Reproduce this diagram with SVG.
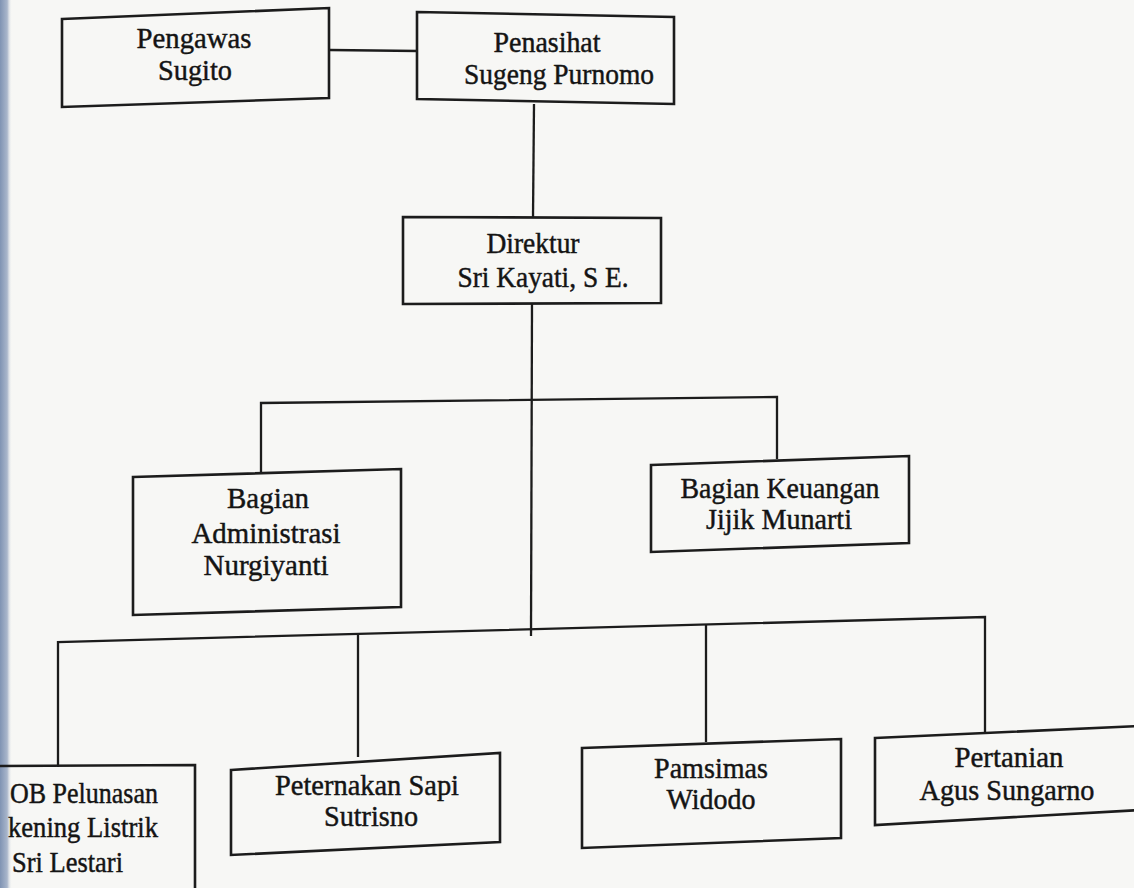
<svg xmlns="http://www.w3.org/2000/svg" width="1134" height="888" viewBox="0 0 1134 888">
<defs>
<style>
.box{fill:none;stroke:#1c1c1c;stroke-width:2.6;stroke-linejoin:miter}
.ln{fill:none;stroke:#1c1c1c;stroke-width:2.3}
.t,.ts{font-family:"Liberation Serif","Times New Roman",serif;font-size:30px;fill:#141414;stroke:#141414;stroke-width:0.45}
.t{text-anchor:middle}
.ts{text-anchor:start}
</style>
<linearGradient id="strip" x1="0" y1="0" x2="1" y2="0">
<stop offset="0" stop-color="#7f93b3"/>
<stop offset="0.6" stop-color="#a9b6cb"/>
<stop offset="1" stop-color="#f6f6f4" stop-opacity="0"/>
</linearGradient>
</defs>
<rect x="0" y="0" width="1134" height="888" fill="#f7f7f5"/>
<rect x="0" y="0" width="12" height="888" fill="url(#strip)"/>
<g id="connectors">
<line class="ln" x1="330" y1="50" x2="418" y2="51"/>
<line class="ln" x1="534" y1="104" x2="533" y2="217"/>
<line class="ln" x1="532" y1="304" x2="531" y2="636"/>
<polyline class="ln" points="261,472 261,403 777,397 777,459"/>
<polyline class="ln" points="58,767 58,642 985,617 985,734"/>
<line class="ln" x1="358" y1="634" x2="358" y2="757"/>
<line class="ln" x1="706" y1="625" x2="706" y2="742"/>
</g>
<g id="pengawas">
<polygon class="box" points="62,19 329,8 329,98 62,107"/>
<text class="t" x="194" y="48" textLength="115" lengthAdjust="spacingAndGlyphs">Pengawas</text>
<text class="t" x="195" y="80" textLength="74" lengthAdjust="spacingAndGlyphs">Sugito</text>
</g>
<g id="penasihat">
<polygon class="box" points="417,12 674,17 674,104 417,99"/>
<text class="t" x="547" y="52" textLength="107" lengthAdjust="spacingAndGlyphs">Penasihat</text>
<text class="t" x="559" y="84" textLength="190" lengthAdjust="spacingAndGlyphs">Sugeng Purnomo</text>
</g>
<g id="direktur">
<polygon class="box" points="403,217 661,218 661,303 403,304"/>
<text class="t" x="533" y="253" textLength="93" lengthAdjust="spacingAndGlyphs">Direktur</text>
<text class="t" x="543" y="287" textLength="171" lengthAdjust="spacingAndGlyphs">Sri Kayati, S E.</text>
</g>
<g id="administrasi">
<polygon class="box" points="133,477 401,469 401,607 133,615"/>
<text class="t" x="268" y="508" textLength="82" lengthAdjust="spacingAndGlyphs">Bagian</text>
<text class="t" x="266" y="543" textLength="149" lengthAdjust="spacingAndGlyphs">Administrasi</text>
<text class="t" x="266" y="575" textLength="125" lengthAdjust="spacingAndGlyphs">Nurgiyanti</text>
</g>
<g id="keuangan">
<polygon class="box" points="651,465 909,456 909,543 651,552"/>
<text class="t" x="780" y="498" textLength="199" lengthAdjust="spacingAndGlyphs">Bagian Keuangan</text>
<text class="t" x="779" y="529" textLength="146" lengthAdjust="spacingAndGlyphs">Jijik Munarti</text>
</g>
<g id="rekening">
<polygon class="box" points="-10,766 195,765 195,900 -10,900"/>
<text class="ts" x="10" y="803" textLength="148" lengthAdjust="spacingAndGlyphs">OB Pelunasan</text>
<text class="ts" x="8" y="837" textLength="150" lengthAdjust="spacingAndGlyphs">kening Listrik</text>
<text class="ts" x="12" y="872" textLength="111" lengthAdjust="spacingAndGlyphs">Sri Lestari</text>
</g>
<g id="peternakan">
<polygon class="box" points="231,770 500,753 500,842 231,855"/>
<text class="t" x="367" y="795" textLength="184" lengthAdjust="spacingAndGlyphs">Peternakan Sapi</text>
<text class="t" x="371" y="826" textLength="94" lengthAdjust="spacingAndGlyphs">Sutrisno</text>
</g>
<g id="pamsimas">
<polygon class="box" points="582,748 841,739 841,838 582,848"/>
<text class="t" x="711" y="778" textLength="114" lengthAdjust="spacingAndGlyphs">Pamsimas</text>
<text class="t" x="711" y="809" textLength="89" lengthAdjust="spacingAndGlyphs">Widodo</text>
</g>
<g id="pertanian">
<polygon class="box" points="875,738 1140,726 1140,810 875,825"/>
<text class="t" x="1009" y="767" textLength="109" lengthAdjust="spacingAndGlyphs">Pertanian</text>
<text class="t" x="1007" y="800" textLength="175" lengthAdjust="spacingAndGlyphs">Agus Sungarno</text>
</g>
</svg>
